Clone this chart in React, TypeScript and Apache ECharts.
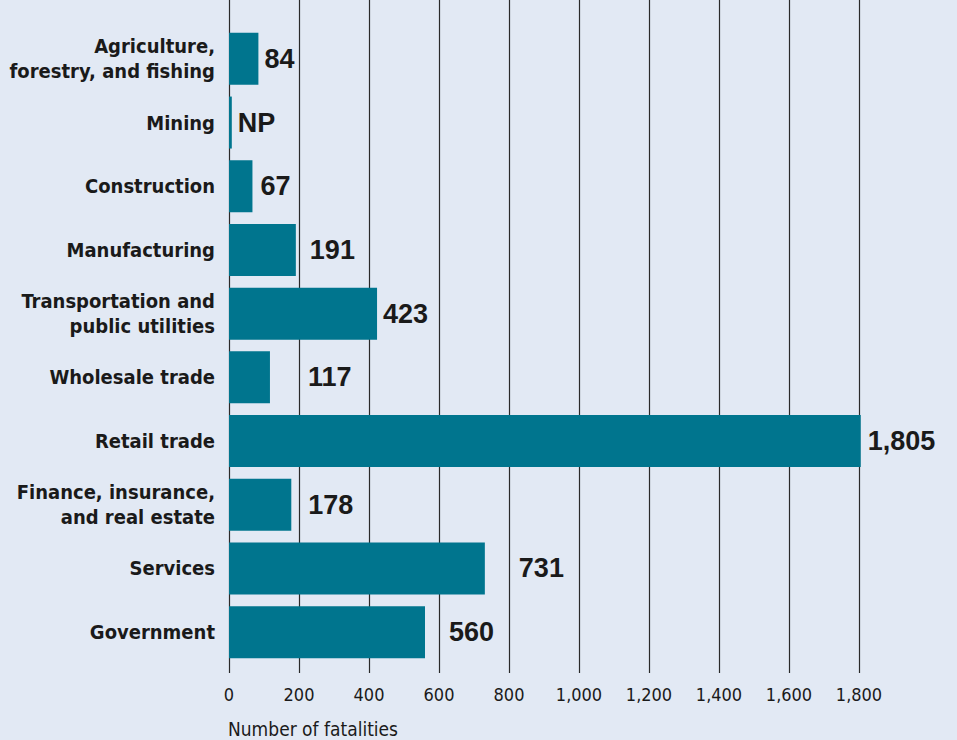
import React, { useEffect, useRef } from "react";
import * as echarts from "echarts";

const categories = [
  "Agriculture,\nforestry, and fishing",
  "Mining",
  "Construction",
  "Manufacturing",
  "Transportation and\npublic utilities",
  "Wholesale trade",
  "Retail trade",
  "Finance, insurance,\nand real estate",
  "Services",
  "Government",
];
const fatalities = [84, 8, 67, 191, 423, 117, 1805, 178, 731, 560];
const valueLabels = ["84", "NP", "67", "191", "423", "117", "1,805", "178", "731", "560"];
const xTicks = { min: 0, max: 1800, interval: 200 };
const labelGaps = [6, 6, 8, 14, 6, 38, 7, 17, 34, 24];

const BG = "#e2e9f4";
const BAR = "#00758e";
const NARROW = "'DejaVu Sans Condensed', sans-serif";
const WIDE = "'Liberation Sans', Arial, sans-serif";
const GRIDLINE = { show: true, lineStyle: { color: "#2a2a2a", width: 1.2 } };

export default function App() {
  const ref = useRef<HTMLDivElement>(null);
  useEffect(() => {
    document.body.style.margin = "0";
    const chart = echarts.init(ref.current!, null, { renderer: "svg" });
    const fmt = (v: number) => v.toLocaleString("en-US");
    const gridBase = { left: 229, right: 98, outerBoundsMode: "none", containLabel: false };
    const xBase = {
      type: "value",
      min: xTicks.min,
      max: xTicks.max,
      interval: xTicks.interval,
      axisLine: { show: false },
      axisTick: { show: false },
      splitLine: GRIDLINE,
    };
    chart.setOption({
      animation: false,
      backgroundColor: BG,
      title: {
        text: "Number of fatalities",
        left: 223,
        top: 714,
        textStyle: { fontFamily: NARROW, fontSize: 19, fontWeight: "normal", color: "#1a1a1a", lineHeight: 20 },
      },
      grid: [
        { ...gridBase, top: 27, height: 637 },
        { ...gridBase, top: 0, height: 27 },
        { ...gridBase, top: 664, height: 9 },
      ],
      xAxis: [
        { ...xBase, gridIndex: 0, axisLabel: { show: false } },
        { ...xBase, gridIndex: 1, axisLabel: { show: false } },
        {
          ...xBase,
          gridIndex: 2,
          axisLabel: {
            formatter: fmt,
            fontFamily: NARROW,
            fontSize: 18,
            color: "#1a1a1a",
            margin: 12,
          },
        },
      ],
      yAxis: [
        {
          gridIndex: 0,
          type: "category",
          inverse: true,
          data: categories,
          axisLine: { show: false },
          axisTick: { show: false },
          axisLabel: {
            fontFamily: NARROW,
            fontSize: 20,
            fontWeight: "bold",
            color: "#1a1a1a",
            lineHeight: 25,
            align: "right",
            margin: 14,
          },
        },
        { gridIndex: 1, type: "category", data: [""], show: false },
        { gridIndex: 2, type: "category", data: [""], show: false },
      ],
      series: [
        {
          type: "bar",
          xAxisIndex: 0,
          yAxisIndex: 0,
          clip: false,
          barWidth: 52,
          itemStyle: { color: BAR },
          data: fatalities.map((v, i) => ({
            value: v,
            label: {
              show: true,
              position: "right",
              distance: labelGaps[i],
              formatter: valueLabels[i],
              fontFamily: WIDE,
              fontWeight: "bold",
              fontSize: 27,
              color: "#1a1a1a",
            },
          })),
        },
      ],
    });
    return () => chart.dispose();
  }, []);
  return <div ref={ref} style={{ width: 957, height: 740 }} />;
}
